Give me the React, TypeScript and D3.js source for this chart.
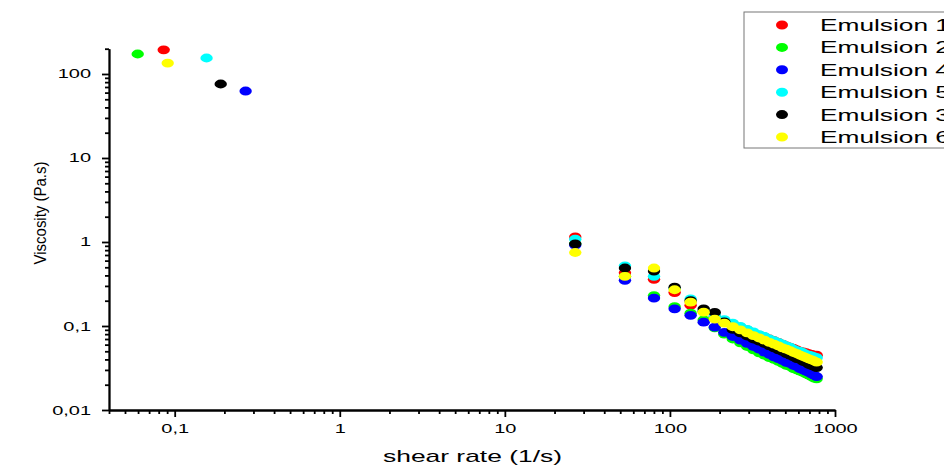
import React, { useEffect, useRef } from 'react';
import * as d3 from 'd3';

// legend / draw order (last one ends up on top)
const names = ['Emulsion 1', 'Emulsion 2', 'Emulsion 4', 'Emulsion 5', 'Emulsion 3', 'Emulsion 6'];
const colors = ['#ff0000', '#00ff00', '#0000ff', '#00ffff', '#000000', '#ffff00'];

// first (low shear) point of every series, same order as names
const lowShearRates = [0.0858, 0.0597, 0.269, 0.156, 0.19, 0.0907];
const lowShearVisc = [194, 173, 62.7, 155, 76, 135];

// shear rates of the flow curve (1/s)
const shearRates = [
  26.7, 53.4, 80.1, 106.8, 133.5, 160.2, 186.9, 213.6, 240.3, 267, 293.7, 320.4, 347.1, 373.8, 400.5,
  427.2, 453.9, 480.6, 507.3, 534, 560.7, 587.4, 614.1, 640.8, 667.5, 694.2, 720.9, 747.6, 774.3,
];

const emulsion1 = [
  1.15, 0.43, 0.36, 0.25, 0.177, 0.15, 0.13, 0.116, 0.106, 0.097, 0.09, 0.083, 0.078, 0.074, 0.07,
  0.067, 0.064, 0.061, 0.058, 0.056, 0.054, 0.052, 0.05, 0.049, 0.048, 0.047, 0.046, 0.045, 0.045,
];
const emulsion2 = [
  0.95, 0.39, 0.23, 0.17, 0.142, 0.118, 0.095, 0.08, 0.07, 0.063, 0.057, 0.052, 0.048, 0.045, 0.042,
  0.04, 0.038, 0.036, 0.034, 0.033, 0.031, 0.03, 0.029, 0.028, 0.027, 0.026, 0.025, 0.024, 0.0235,
];
const emulsion4 = [
  0.92, 0.35, 0.215, 0.16, 0.134, 0.111, 0.097, 0.084, 0.075, 0.068, 0.062, 0.057, 0.053, 0.049, 0.046,
  0.043, 0.041, 0.039, 0.037, 0.036, 0.034, 0.033, 0.031, 0.03, 0.029, 0.028, 0.027, 0.026, 0.025,
];
const emulsion5 = [
  1.08, 0.52, 0.39, 0.28, 0.21, 0.154, 0.135, 0.119, 0.108, 0.099, 0.091, 0.085, 0.079, 0.075, 0.07,
  0.067, 0.064, 0.061, 0.058, 0.056, 0.053, 0.051, 0.05, 0.048, 0.046, 0.045, 0.044, 0.043, 0.042,
];
const emulsion3 = [
  0.95, 0.49, 0.45, 0.29, 0.2, 0.16, 0.145, 0.112, 0.091, 0.083, 0.076, 0.07, 0.066, 0.062, 0.058,
  0.055, 0.052, 0.05, 0.047, 0.045, 0.043, 0.041, 0.04, 0.038, 0.037, 0.035, 0.034, 0.033, 0.032,
];
const emulsion6 = [
  0.75, 0.39, 0.49, 0.27, 0.192, 0.146, 0.121, 0.108, 0.098, 0.09, 0.083, 0.077, 0.072, 0.068, 0.064,
  0.061, 0.058, 0.055, 0.053, 0.051, 0.0486, 0.0468, 0.0451, 0.0435, 0.0421, 0.0407, 0.0395, 0.0383, 0.0372,
];
const viscosities = [emulsion1, emulsion2, emulsion4, emulsion5, emulsion3, emulsion6];

const xMajor = [0.1, 1, 10, 100, 1000];
const yMajor = [0.01, 0.1, 1, 10, 100];

const FONT = '"Liberation Sans", Arial, sans-serif';

const App = () => {
  const svgRef = useRef<SVGSVGElement>(null);

  useEffect(() => {
    const svg = d3.select(svgRef.current);
    svg.selectAll('*').remove();

    const left = 109;
    const bottom = 410;
    const x = d3.scaleLog().domain([0.04, 1000]).range([left, 835]);
    const y = d3.scaleLog().domain([0.01, 200]).range([bottom, 48.7]);

    const isMajor = (d: number) => Math.abs(Math.log10(d) - Math.round(Math.log10(d))) < 1e-6;
    const fmt = (d: any) => String(d).replace('.', ',');
    const xMinor = x.ticks().filter((d) => !isMajor(d));
    const yMinor = y.ticks().filter((d) => !isMajor(d));

    const styleAxis = (g: any) => {
      g.attr('font-family', FONT).attr('font-size', 12.5);
      g.selectAll('path, line').attr('stroke', '#000').attr('stroke-width', 1.8);
      g.selectAll('text').attr('fill', '#000');
    };

    // x axis
    svg
      .append('g')
      .attr('transform', `translate(0,${bottom})`)
      .call(d3.axisBottom(x).tickValues(xMinor).tickSize(4).tickSizeOuter(0).tickFormat(() => ''))
      .call(styleAxis);
    svg
      .append('g')
      .attr('transform', `translate(0,${bottom})`)
      .call(d3.axisBottom(x).tickValues(xMajor).tickSize(7).tickSizeOuter(0).tickPadding(7).tickFormat(fmt))
      .call(styleAxis)
      .call((g) => g.selectAll('text').attr('transform', 'scale(1.6,1)'));

    // y axis
    svg
      .append('g')
      .attr('transform', `translate(${left},0)`)
      .call(d3.axisLeft(y).tickValues(yMinor).tickSize(4).tickSizeOuter(0).tickFormat(() => ''))
      .call(styleAxis);
    svg
      .append('g')
      .attr('transform', `translate(${left},0)`)
      .call(d3.axisLeft(y).tickValues(yMajor).tickSize(7).tickSizeOuter(0).tickPadding(4.2).tickFormat(fmt))
      .call(styleAxis)
      .call((g) => g.selectAll('text').attr('transform', 'scale(1.6,1)'));

    // axis titles
    svg
      .append('text')
      .attr('x', 383)
      .attr('y', 462)
      .attr('font-family', FONT)
      .attr('font-size', 17)
      .attr('textLength', 179)
      .attr('lengthAdjust', 'spacingAndGlyphs')
      .text('shear rate (1/s)');

    svg
      .append('text')
      .attr('transform', 'translate(46,213) rotate(-90)')
      .attr('text-anchor', 'middle')
      .attr('font-family', FONT)
      .attr('font-size', 17)
      .attr('textLength', 103)
      .attr('lengthAdjust', 'spacingAndGlyphs')
      .text('Viscosity (Pa.s)');

    // points
    const dots = svg.append('g');
    viscosities.forEach((vals, i) => {
      const pts = [[lowShearRates[i], lowShearVisc[i]], ...vals.map((v, j) => [shearRates[j], v])];
      dots
        .append('g')
        .selectAll('ellipse')
        .data(pts)
        .enter()
        .append('ellipse')
        .attr('cx', (d) => x(d[0]))
        .attr('cy', (d) => y(d[1]))
        .attr('rx', 6.2)
        .attr('ry', 4.4)
        .attr('fill', colors[i]);
    });

    // legend
    const legend = svg.append('g');
    legend
      .append('rect')
      .attr('x', 744)
      .attr('y', 12)
      .attr('width', 260)
      .attr('height', 136)
      .attr('fill', '#fff')
      .attr('stroke', '#777')
      .attr('stroke-width', 1);
    names.forEach((name, i) => {
      const cy = 25 + i * 22.4;
      legend.append('ellipse').attr('cx', 782).attr('cy', cy).attr('rx', 6).attr('ry', 4.5).attr('fill', colors[i]);
      legend
        .append('text')
        .attr('x', 820)
        .attr('y', cy + 6)
        .attr('font-family', FONT)
        .attr('font-size', 17)
        .attr('textLength', 130)
        .attr('lengthAdjust', 'spacingAndGlyphs')
        .text(name);
    });
  }, []);

  return (
    <svg
      ref={svgRef}
      width={944}
      height={465}
      style={{ position: 'absolute', left: 0, top: 0, background: '#fff' }}
    />
  );
};

export default App;
